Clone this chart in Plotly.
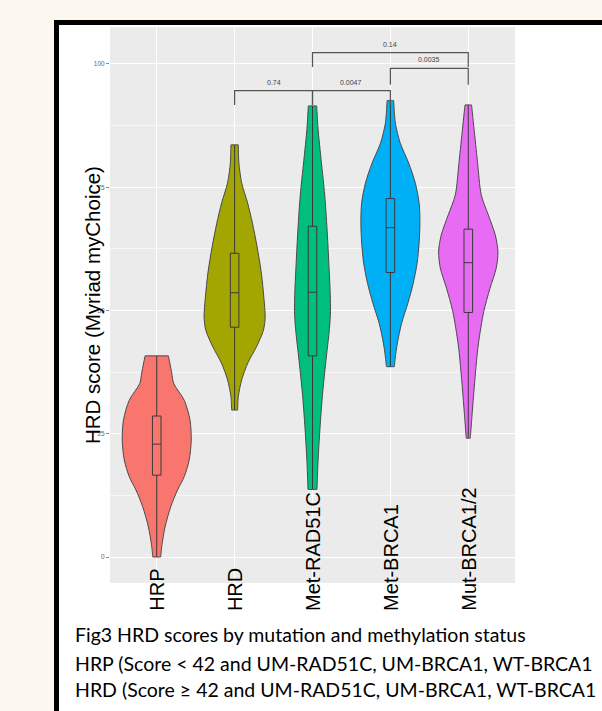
import plotly.graph_objects as go

# ---------------- data ----------------
categories = ["HRP", "HRD", "Met-RAD51C", "Met-BRCA1", "Mut-BRCA1/2"]
colors = ["#F8766D", "#A3A500", "#00BF7D", "#00B0F6", "#E76BF3"]

# violin density profiles: score levels (bottom -> top) and half-widths (category units)
hrp_levels = [0.0, 2.1, 6.1, 10.2, 13.6, 16.3, 19.7, 23.7, 27.8, 31.8, 35.2, 37.3, 40.8]
hrp_width = [0.051, 0.064, 0.107, 0.180, 0.267, 0.353, 0.417, 0.443, 0.427, 0.353, 0.218, 0.193, 0.150]

hrd_levels = [29.8, 32.5, 35.9, 39.4, 42.6, 46.0, 48.7, 52.7, 57.6, 62.9, 67.7, 71.8, 75.9, 79.9, 83.6]
hrd_width = [0.039, 0.047, 0.090, 0.171, 0.279, 0.370, 0.392, 0.375, 0.343, 0.289, 0.229, 0.167, 0.090, 0.055, 0.047]

rad51c_levels = [13.7, 19.3, 26.1, 32.9, 39.6, 46.4, 49.8, 53.1, 59.9, 66.7, 73.4, 80.2, 86.9, 91.5]
rad51c_width = [0.058, 0.071, 0.096, 0.128, 0.171, 0.218, 0.231, 0.228, 0.209, 0.186, 0.157, 0.113, 0.071, 0.054]

brca1_levels = [38.6, 40.6, 43.4, 47.4, 51.5, 55.5, 59.6, 63.6, 67.7, 71.7, 75.8, 79.9, 83.9, 88.0, 92.6]
brca1_width = [0.051, 0.064, 0.090, 0.144, 0.225, 0.293, 0.343, 0.368, 0.379, 0.370, 0.321, 0.235, 0.128, 0.064, 0.042]

mut_levels = [24.1, 29.3, 36.2, 43.0, 49.8, 54.5, 58.6, 61.9, 65.3, 69.4, 73.4, 80.2, 87.0, 91.7]
mut_width = [0.026, 0.051, 0.086, 0.128, 0.199, 0.279, 0.359, 0.381, 0.347, 0.257, 0.167, 0.118, 0.073, 0.042]

# box statistics
box_min = [0.0, 29.8, 13.7, 38.6, 24.1]
box_q1 = [16.6, 46.6, 40.8, 57.7, 49.6]
box_median = [22.9, 53.6, 53.7, 66.8, 59.7]
box_q3 = [28.6, 61.6, 67.1, 72.7, 66.5]
box_max = [40.8, 83.6, 91.5, 92.6, 91.7]

# significance brackets
sig_left = [2, 3, 4, 3]
sig_right = [3, 4, 5, 5]
sig_y = [94.6, 94.6, 99.1, 102.3]
sig_tip = [91.7, 91.7, 95.8, 99.4]
sig_label = ["0.74", "0.0047", "0.0035", "0.14"]
sig_label_y = [96.2, 96.2, 101.0, 103.9]

y_ticks = [0, 25, 50, 75, 100]
y_minor = [12.5, 37.5, 62.5, 87.5]
y_title = "HRD score (Myriad myChoice)"
caption_lines = [
    "Fig3 HRD scores by mutation and methylation status",
    "HRP (Score < 42 and UM-RAD51C, UM-BRCA1, WT-BRCA1",
    "HRD (Score ≥ 42 and UM-RAD51C, UM-BRCA1, WT-BRCA1",
]

profiles = [
    (hrp_levels, hrp_width),
    (hrd_levels, hrd_width),
    (rad51c_levels, rad51c_width),
    (brca1_levels, brca1_width),
    (mut_levels, mut_width),
]

# ---------------- figure ----------------
W, H = 602, 711
ML, MR, MT, MB = 110, 87, 27, 128
pw, ph = W - ML - MR, H - MT - MB
XR = [0.4, 5.6]
YR = [-5.27, 107.5]


def px2paper_x(px):
    return (px - ML) / pw


def px2paper_y(py):
    return (H - MB - py) / ph


fig = go.Figure()

for i, (lev, wid) in enumerate(profiles):
    c = i + 1
    right = [(c + w, v) for w, v in zip(wid, lev)]
    left = [(c - w, v) for w, v in zip(reversed(wid), reversed(lev))]
    # repeat the trimmed ends so the spline keeps flat, sharp-cornered ends
    pts = [right[0]] + right + [right[-1]] + [left[0]] + left + [left[-1], right[0]]
    fig.add_trace(go.Scatter(
        x=[p[0] for p in pts], y=[p[1] for p in pts], mode="lines", fill="toself",
        fillcolor=colors[i],
        line=dict(color="#4a4a4a", width=1, shape="spline", smoothing=0.8, simplify=False),
        showlegend=False, hoverinfo="skip"))

for i in range(len(categories)):
    fig.add_trace(go.Box(
        x=[i + 1], q1=[box_q1[i]], median=[box_median[i]], q3=[box_q3[i]],
        lowerfence=[box_min[i]], upperfence=[box_max[i]],
        width=0.11, whiskerwidth=0, fillcolor="rgba(0,0,0,0)",
        line=dict(color="#3a3a3a", width=1), boxpoints=False,
        xaxis="x2", yaxis="y2", showlegend=False, hoverinfo="skip"))

for l, r, yb, yt in zip(sig_left, sig_right, sig_y, sig_tip):
    fig.add_trace(go.Scatter(
        x=[l, l, r, r], y=[yt, yb, yb, yt], mode="lines", xaxis="x2", yaxis="y2",
        line=dict(color="#555555", width=1.2), showlegend=False, hoverinfo="skip"))

annotations = []
for l, r, lab, ly in zip(sig_left, sig_right, sig_label, sig_label_y):
    annotations.append(dict(x=(l + r) / 2, y=ly, xref="x", yref="y", text=lab,
                            showarrow=False, font=dict(size=7, color="#444444",
                                                       family="Liberation Sans, Arial")))

for i, cat in enumerate(categories):
    annotations.append(dict(x=i + 1, y=px2paper_y(613), xref="x", yref="paper", text=cat,
                            textangle=-90, showarrow=False, xanchor="center", yanchor="bottom",
                            font=dict(size=20, color="black", family="Liberation Sans, Arial")))

annotations.append(dict(x=px2paper_x(92), y=0.5, xref="paper", yref="paper", text=y_title,
                        textangle=-90, showarrow=False, xanchor="center", yanchor="middle",
                        font=dict(size=20.5, color="black", family="Liberation Sans, Arial")))

cap_y = [634, 663, 689]
for line, cy in zip(caption_lines, cap_y):
    annotations.append(dict(x=px2paper_x(72.5), y=px2paper_y(cy), xref="paper", yref="paper",
                            text=line, showarrow=False, xanchor="left", yanchor="middle",
                            font=dict(size=19.5, color="black", family="Lato, Carlito, Calibri")))

shapes = [
    dict(type="rect", xref="paper", yref="paper", layer="below",
         x0=px2paper_x(56.5), x1=px2paper_x(800), y0=px2paper_y(900), y1=px2paper_y(22.5),
         fillcolor="white", line=dict(color="black", width=5)),
    dict(type="rect", xref="paper", yref="paper", layer="below",
         x0=0, x1=1, y0=0, y1=1, fillcolor="#EBEBEB", line=dict(width=0)),
]

fig.update_layout(
    width=W, height=H,
    margin=dict(l=ML, r=MR, t=MT, b=MB, pad=0),
    paper_bgcolor="#FCF7EF",
    plot_bgcolor="rgba(0,0,0,0)",
    annotations=annotations,
    shapes=shapes,
    showlegend=False,
    xaxis=dict(range=XR, tickvals=[1, 2, 3, 4, 5], showticklabels=False, ticks="",
               showgrid=True, gridcolor="white", gridwidth=1, zeroline=False, showline=False),
    yaxis=dict(range=YR, tickvals=y_ticks, ticks="outside", ticklen=3,
               tickcolor="#888888", tickwidth=1,
               tickfont=dict(size=6.5, color="#666666", family="Liberation Sans, Arial"),
               showgrid=True, gridcolor="white", gridwidth=1, zeroline=False, showline=False,
               minor=dict(tickvals=y_minor, showgrid=True, gridcolor="#F7F7F7",
                          gridwidth=0.6, ticks="")),
    xaxis2=dict(range=XR, overlaying="x", visible=False),
    yaxis2=dict(range=YR, overlaying="y", visible=False),
)

fig.write_html("out.html", config={"displayModeBar": False},
               post_script="document.body.style.margin='0';")
